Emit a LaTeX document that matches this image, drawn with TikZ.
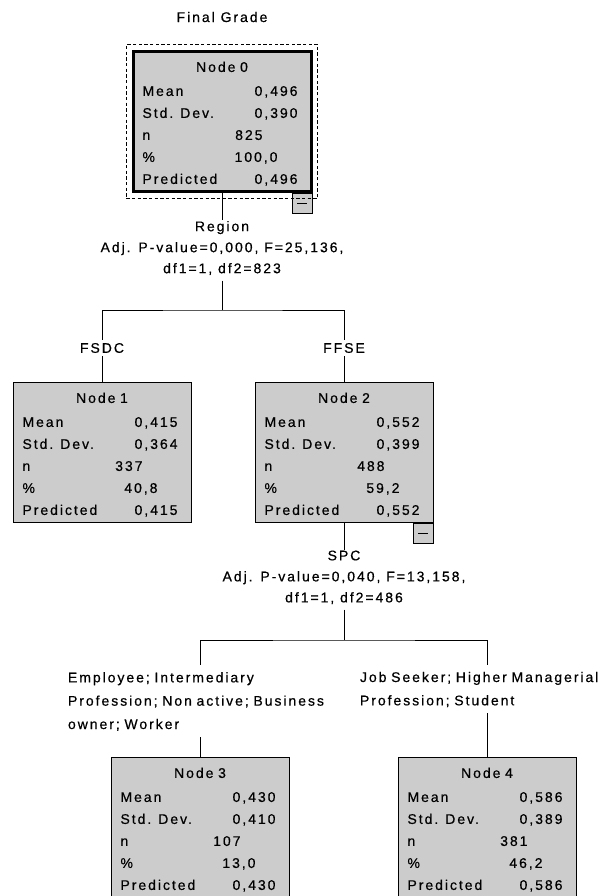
\documentclass[tikz,border=0pt]{standalone}
\usepackage{fontspec}
\setmainfont{Liberation Sans}[LetterSpace=14,FakeBold=0.5]
\usepackage{xcolor}
\usetikzlibrary{positioning,fit}
\definecolor{boxgray}{RGB}{204,204,204}

\begin{document}
\begin{tikzpicture}[ x=0.75pt, y=-0.75pt
                   , line width=0.75pt
                   , font=\fontsize{10.5pt}{16.5pt}\selectfont
                   , statbox/.style={ draw, fill=boxgray
                                    , minimum width=133.5pt, minimum height=105pt
                                    , text width=\tw, inner xsep=7.1pt, inner ysep=0pt
                                    , align=left }
                   , picked/.style={line width=2.25pt}
                   , focus/.style={draw, dash pattern=on 2.5pt off 1.75pt, inner sep=4pt}
                   , minusbox/.style={draw, fill=boxgray, minimum size=15pt, inner sep=0pt}
                   , splitlbl/.style={ align=center, inner xsep=0pt, inner ysep=0.4pt
                                     , font=\fontsize{10.5pt}{15.75pt}\selectfont
                                     , execute at begin node=\strut
                                     , execute at end node=\strut }
                   , catlbl/.style={inner xsep=0pt, inner ysep=2.25pt}
                   , grouplbl/.style={ splitlbl, align=left
                                     , font=\fontsize{10.5pt}{17.5pt}\selectfont } ]
  \def\tw{119.25pt}
  \def\vw{116.25pt}
  \def\nw{90pt}
  \def\pw{101.25pt}
  \def\srow#1#2#3{\makebox[\tw][l]{\rlap{#1}\makebox[#3][r]{#2}}}
  \def\stats#1#2#3#4#5#6{%
    \strut\makebox[\tw][c]{#1}\\[1.5pt]
    \srow{Mean}{#2}{\vw}\\
    \srow{Std. Dev.}{#3}{\vw}\\
    \srow{n}{#4}{\nw}\\
    \srow{\%}{#5}{\pw}\\
    \srow{Predicted}{#6}{\vw}\rule[-1.95pt]{0pt}{1pt}}

  \useasboundingbox (0,0) rectangle (608,896);

  \node (title) at (222,17) {Final Grade};

  \node[statbox, picked] (n0) at (222,121.5)
    {\stats{Node 0}{0,496}{0,390}{825}{100,0}{0,496}};
  \node[minusbox, below left=0pt of n0.south east] (m0) {\rule{7.5pt}{0.75pt}};
  \node[focus, fit=(n0)] (f0) {};

  \node[splitlbl, below=20.25pt of n0] (s0)
    {Region\\Adj. P-value=0,000, F=25,136,\\df1=1, df2=823};
  \coordinate (j0) at (222,310);

  \node[catlbl] (b1) at (102,348) {FSDC};
  \node[catlbl] (b2) at (344,348) {FFSE};

  \node[statbox] (n1) at (102,452.5)
    {\stats{Node 1}{0,415}{0,364}{337}{40,8}{0,415}};
  \node[statbox] (n2) at (344,452.5)
    {\stats{Node 2}{0,552}{0,399}{488}{59,2}{0,552}};
  \node[minusbox, below left=0pt of n2.south east] (m2) {\rule{7.5pt}{0.75pt}};

  \node[splitlbl, below=19.9pt of n2] (s2)
    {SPC\\Adj. P-value=0,040, F=13,158,\\df1=1, df2=486};
  \coordinate (j2) at (344,640);

  \node[grouplbl, text width=198pt] (b3) at (200,701)
    {Employee; Intermediary\\Profession; Non active; Business\\owner; Worker};
  \node[grouplbl, text width=190.5pt] (b4) at (487,689)
    {Job Seeker; Higher Managerial\\Profession; Student};

  \node[statbox] (n3) at (200,827.5)
    {\stats{Node 3}{0,430}{0,410}{107}{13,0}{0,430}};
  \node[statbox] (n4) at (487,827.5)
    {\stats{Node 4}{0,586}{0,389}{381}{46,2}{0,586}};

  \draw (n0) -- (s0);
  \draw (s0) -- (j0);
  \draw (b1) |- (j0) -| (b2);
  \draw (b1) -- (n1);
  \draw (b2) -- (n2);
  \draw (n2) -- (s2);
  \draw (s2) -- (j2);
  \draw (b3) |- (j2) -| (b4);
  \draw (b3) -- (n3);
  \draw (b4) -- (n4);
\end{tikzpicture}
\end{document}
